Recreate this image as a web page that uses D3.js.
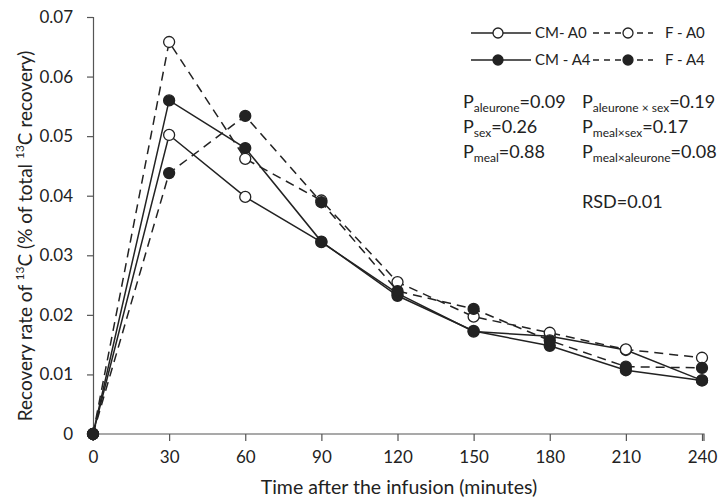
<!DOCTYPE html>
<html><head><meta charset="utf-8">
<script src="https://cdn.jsdelivr.net/npm/d3@7"></script>
<style>body{margin:0;background:#fff}svg{display:block}text{font-family:"Lato","Open Sans",sans-serif;fill:#222}</style>
</head><body><svg id="c" width="725" height="504"></svg>
<script>
const times = [0, 30, 60, 90, 120, 150, 180, 210, 240];
const cmA0 = [0, 0.0502, 0.0398, 0.0322, 0.0236, 0.0172, 0.0164, 0.0141, 0.0090];
const cmA4 = [0, 0.0560, 0.0480, 0.0323, 0.0232, 0.0173, 0.0148, 0.0107, 0.0090];
const fA0  = [0, 0.0658, 0.0462, 0.0392, 0.0255, 0.0197, 0.0170, 0.0142, 0.0128];
const fA4  = [0, 0.0438, 0.0534, 0.0389, 0.0240, 0.0210, 0.0157, 0.0113, 0.0111];
const yTicks = [0, 0.01, 0.02, 0.03, 0.04, 0.05, 0.06, 0.07];
const yTickLabels = ["0", "0.01", "0.02", "0.03", "0.04", "0.05", "0.06", "0.07"];
const seriesNames = ["CM- A0", "CM - A4", "F - A0", "F - A4"];

const series = [
  {name: seriesNames[0], values: cmA0, dashed: false, filled: false},
  {name: seriesNames[1], values: cmA4, dashed: false, filled: true},
  {name: seriesNames[2], values: fA0, dashed: true, filled: false},
  {name: seriesNames[3], values: fA4, dashed: true, filled: true}
];

const svg = d3.select("#c");
const col = "#222";
const x = d3.scaleLinear().domain([0, 240]).range([93, 702]);
const y = d3.scaleLinear().domain([0, 0.07]).range([434, 17]);

// axes
const xAxis = svg.append("g").attr("transform", "translate(0,434)")
  .call(d3.axisBottom(x).tickValues(times).tickSize(7).tickPadding(10).tickFormat(d3.format("d")));
const yAxis = svg.append("g").attr("transform", "translate(93,0)")
  .call(d3.axisLeft(y).tickValues(yTicks).tickSize(6).tickPadding(14).tickFormat((d,i)=>yTickLabels[i]));
[xAxis, yAxis].forEach(g => {
  g.select(".domain").attr("stroke", "#555").attr("stroke-width", 1.2);
  g.selectAll(".tick line").attr("stroke", "#555").attr("stroke-width", 1.2);
  g.selectAll(".tick text").attr("font-size", 17).attr("fill", col).style("font-family", "Lato, 'Open Sans', sans-serif");
});
xAxis.select(".domain").attr("d", "M93,7V0H704V7");

// lines
const line = d3.line().x((d,i)=>x(times[i])).y(d=>y(d));
series.forEach(s => {
  svg.append("path").datum(s.values).attr("d", line)
    .attr("fill", "none").attr("stroke", col).attr("stroke-width", 1.5)
    .attr("stroke-dasharray", s.dashed ? "9,6" : null);
});
series.forEach(s => {
  svg.append("g").selectAll("circle").data(s.values).join("circle")
    .attr("cx", (d,i)=>x(times[i])).attr("cy", d=>y(d)).attr("r", 5.5)
    .attr("fill", s.filled ? col : "#fff").attr("stroke", col).attr("stroke-width", 1.3);
});
svg.append("circle").attr("cx", x(0)).attr("cy", y(0)).attr("r", 5.5).attr("fill", col);

// legend
const leg = [
  {s: series[0], lx: 471, ly: 33}, {s: series[2], lx: 593, ly: 33},
  {s: series[1], lx: 471, ly: 60}, {s: series[3], lx: 593, ly: 60}
];
leg.forEach(l => {
  const g = svg.append("g");
  g.append("line").attr("x1", l.lx).attr("x2", l.lx + 60).attr("y1", l.ly).attr("y2", l.ly)
    .attr("stroke", col).attr("stroke-width", 1.3).attr("stroke-dasharray", l.s.dashed ? "6,5" : null);
  g.append("circle").attr("cx", l.lx + (l.s.dashed ? 35 : 27)).attr("cy", l.ly).attr("r", 5)
    .attr("fill", l.s.filled ? col : "#fff").attr("stroke", col).attr("stroke-width", 1.3);
  g.append("text").attr("x", l.lx + (l.s.dashed ? 72 : 64)).attr("y", l.ly + 5).attr("font-size", 15).text(l.s.name);
});

// stats text
const stats = [
  {x: 463, y: 108, sub: "aleurone", val: "=0.09"},
  {x: 463, y: 133, sub: "sex", val: "=0.26"},
  {x: 463, y: 158, sub: "meal", val: "=0.88"},
  {x: 582, y: 108, sub: "aleurone × sex", val: "=0.19"},
  {x: 582, y: 133, sub: "meal×sex", val: "=0.17"},
  {x: 582, y: 158, sub: "meal×aleurone", val: "=0.08"}
];
stats.forEach(s => {
  const t = svg.append("text").attr("x", s.x).attr("y", s.y).attr("font-size", 18);
  t.append("tspan").text("P");
  t.append("tspan").attr("font-size", 12).attr("dy", 4).text(s.sub);
  t.append("tspan").attr("dy", -4).text(s.val);
});
svg.append("text").attr("x", 582).attr("y", 208).attr("font-size", 18).text("RSD=0.01");

// axis titles
svg.append("text").attr("x", 399).attr("y", 494).attr("text-anchor", "middle").attr("font-size", 19.5)
  .text("Time after the infusion (minutes)");
const yt = svg.append("text").attr("transform", "translate(32,236) rotate(-90)")
  .attr("text-anchor", "middle").attr("font-size", 19);
yt.append("tspan").text("Recovery rate of ");
yt.append("tspan").attr("font-size", 12).attr("dy", -8).text("13");
yt.append("tspan").attr("dy", 8).text("C (% of total ");
yt.append("tspan").attr("font-size", 12).attr("dy", -8).text("13");
yt.append("tspan").attr("dy", 8).text("C recovery)");
</script></body></html>
